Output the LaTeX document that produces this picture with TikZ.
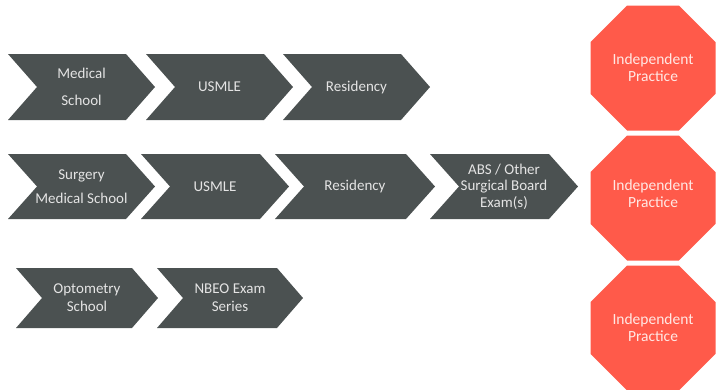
\documentclass[tikz,border=0pt]{standalone}
\usepackage{fontspec}
\setmainfont{Carlito}
\usetikzlibrary{shapes.geometric}
\definecolor{chevgray}{HTML}{4B5151}
\definecolor{octred}{HTML}{FF5A4A}
\definecolor{chevtxt}{HTML}{E4E4E4}
\definecolor{octtxt}{HTML}{FFE8E4}
\tikzset{
  chevshape/.style={fill=chevgray},
  chevtext/.style={text=chevtxt, align=center, inner sep=0pt,
    font=\fontsize{15}{16.5}\selectfont},
  octshape/.style={regular polygon, regular polygon sides=8, fill=octred,
    minimum size=135.3pt, inner sep=0pt},
  octtext/.style={text=octtxt, align=center, inner sep=0pt,
    font=\fontsize{15.5}{17}\selectfont},
}
% #1 left x, #2 top y, #3 tip x, #4 bottom y, #5 depth, #6 name, #7 text
\newcommand{\mychev}[7]{%
  \fill[chevshape] (#1,-#2) -- ({#3-#5},-#2) -- (#3,{-(#2+#4)/2}) -- ({#3-#5},-#4)
    -- (#1,-#4) -- ({#1+#5},{-(#2+#4)/2}) -- cycle;
  \node[chevtext] (#6) at ({(#1+#3)/2},{-(#2+#4)/2}) {#7};}
\begin{document}
\begin{tikzpicture}[x=1pt,y=1pt]
\useasboundingbox (0,0) rectangle (716,-389);
\clip (0,0) rectangle (716,-389);
% row 1
\mychev{8}{54}{155}{120}{29}{a1}{Medical\\[10pt]School}
\mychev{146}{54}{293}{120}{29}{a2}{USMLE}
\mychev{283}{54}{430}{120}{29}{a3}{Residency}
% row 2
\mychev{8}{154}{155}{219}{29}{b1}{Surgery\\[8pt]Medical School}
\mychev{141}{154}{289}{219}{29}{b2}{USMLE}
\mychev{275}{154}{435}{219}{29}{b3}{Residency}
\mychev{430}{154}{578}{219}{29}{b4}{ABS / Other\\Surgical Board\\Exam(s)}
% row 3
\mychev{16}{268}{158}{328}{26}{c1}{Optometry\\[1.5pt]School}
\mychev{157}{268}{303}{328}{26}{c2}{NBEO Exam\\[1.5pt]Series}
% octagons
\node[octshape] (o1) at (653,-68) {};
\node[octshape] (o2) at (653,-198) {};
\node[octshape] (o3) at (653,-328) {};
\node[octtext] (t1) at (653,-68) {Independent\\Practice};
\node[octtext] (t2) at (653,-193.5) {Independent\\Practice};
\node[octtext] (t3) at (653,-328) {Independent\\Practice};
\end{tikzpicture}
\end{document}
